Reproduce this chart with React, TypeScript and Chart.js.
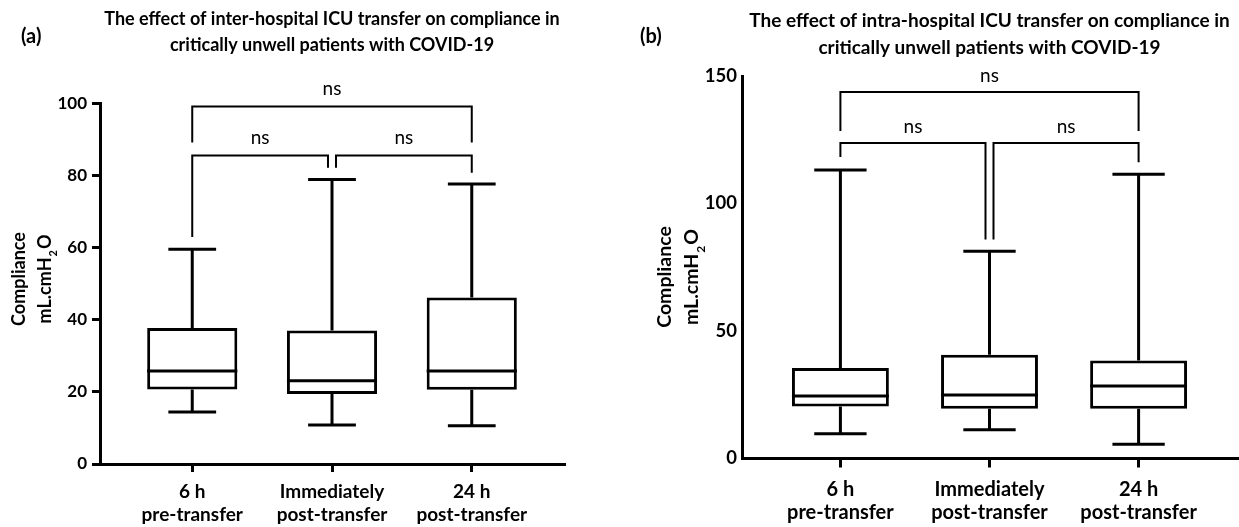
import React, { useEffect, useRef } from 'react';
import { Chart, registerables } from 'chart.js';

Chart.register(...registerables);

const FONT = 'Lato, "Noto Sans", "DejaVu Sans", sans-serif';

// ---------- shared categories ----------
const categoryLabels: string[][] = [
  ['6 h', 'pre-transfer'],
  ['Immediately', 'post-transfer'],
  ['24 h', 'post-transfer'],
];
const categoryPositions = [0, 1, 2];

const yTitleLine1 = 'Compliance';
const yTitleLine2: { text: string; sub?: boolean }[] = [
  { text: 'mL.cmH' },
  { text: '2', sub: true },
  { text: 'O' },
];

// ---------- panel (a): inter-hospital ----------
const interLetter = '(a)';
const interTitle = [
  'The effect of inter-hospital ICU transfer on compliance in',
  'critically unwell patients with COVID-19',
];
const interMin = [14.4, 10.8, 10.6];
const interQ1 = [20.7, 19.4, 20.6];
const interMedian = [25.8, 23.1, 25.8];
const interQ3 = [37.7, 37.0, 46.2];
const interMax = [59.6, 78.9, 77.7];
const interTicks = [0, 20, 40, 60, 80, 100];
const interBrackets = [
  { from: 0, to: 2, level: 99.2, fromEnd: 89.2, toEnd: 89.2, label: 'ns' },
  { from: 0, to: 1, level: 85.6, fromEnd: 63.0, toEnd: 82.2, label: 'ns' },
  { from: 1, to: 2, level: 85.6, fromEnd: 82.2, toEnd: 80.8, label: 'ns' },
];

// ---------- panel (b): intra-hospital ----------
const intraLetter = '(b)';
const intraTitle = [
  'The effect of intra-hospital ICU transfer on compliance in',
  'critically unwell patients with COVID-19',
];
const intraMin = [9.7, 11.3, 5.6];
const intraQ1 = [20.4, 19.5, 19.5];
const intraMedian = [24.5, 24.9, 28.4];
const intraQ3 = [35.5, 40.7, 38.4];
const intraMax = [113.1, 81.3, 111.5];
const intraTicks = [0, 50, 100, 150];
const intraBrackets = [
  { from: 0, to: 2, level: 143.7, fromEnd: 128.4, toEnd: 128.4, label: 'ns' },
  { from: 0, to: 1, level: 123.7, fromEnd: 118.2, toEnd: 85.9, label: 'ns' },
  { from: 1, to: 2, level: 123.7, fromEnd: 85.9, toEnd: 116.2, label: 'ns' },
];

type Bracket = { from: number; to: number; level: number; fromEnd: number; toEnd: number; label: string };

interface Panel {
  letter: string;
  title: string[];
  mins: number[];
  q1: number[];
  medians: number[];
  q3: number[];
  maxs: number[];
  yMax: number;
  yTicks: number[];
  brackets: Bracket[];
  s: {
    width: number;
    left: number;
    padding: { left: number; right: number; top: number; bottom: number };
    yAxisWidth: number;
    xAxisHeight: number;
    yTickLen: number;
    yTickPad: number;
    xTickLen: number;
    xTickPad: number;
    tickFont: number;
    xFont: number;
    titleFont: number;
    titleBaselines: number[];
    letterFont: number;
    letterX: number;
    letterY: number;
    yTitleFont: number;
    yTitleX: number[];
    yTitleY: number;
    nsFont: number;
    nsOffset: number;
    barPct: number;
    capRatio: number;
  };
}

const panels: Panel[] = [
  {
    letter: interLetter,
    title: interTitle,
    mins: interMin,
    q1: interQ1,
    medians: interMedian,
    q3: interQ3,
    maxs: interMax,
    yMax: 100,
    yTicks: interTicks,
    brackets: interBrackets,
    s: {
      width: 620,
      left: 0,
      padding: { left: 0, right: 56, top: 103.5, bottom: 0 },
      yAxisWidth: 100,
      xAxisHeight: 63,
      yTickLen: 8,
      yTickPad: 5,
      xTickLen: 8,
      xTickPad: 8,
      tickFont: 17,
      xFont: 19,
      titleFont: 18,
      titleBaselines: [25, 51],
      letterFont: 20,
      letterX: 21,
      letterY: 37,
      yTitleFont: 18,
      yTitleX: [19, 45],
      yTitleY: 279,
      nsFont: 19,
      nsOffset: 11,
      barPct: 0.645,
      capRatio: 0.53,
    },
  },
  {
    letter: intraLetter,
    title: intraTitle,
    mins: intraMin,
    q1: intraQ1,
    medians: intraMedian,
    q3: intraQ3,
    maxs: intraMax,
    yMax: 150,
    yTicks: intraTicks,
    brackets: intraBrackets,
    s: {
      width: 619,
      left: 620,
      padding: { left: 0, right: 2, top: 76, bottom: 0 },
      yAxisWidth: 122,
      xAxisHeight: 68.5,
      yTickLen: 0,
      yTickPad: 5,
      xTickLen: 9,
      xTickPad: 11,
      tickFont: 18.5,
      xFont: 20,
      titleFont: 19,
      titleBaselines: [27, 54],
      letterFont: 20,
      letterX: 20,
      letterY: 37,
      yTitleFont: 19.5,
      yTitleX: [45, 72],
      yTitleY: 277,
      nsFont: 19,
      nsOffset: 10.5,
      barPct: 0.65,
      capRatio: 0.54,
    },
  },
];

function makePlugin(p: Panel) {
  const s = p.s;
  return {
    id: 'boxplot-' + p.letter,
    beforeDatasetsDraw(chart: any) {
      const { ctx } = chart;
      const x = chart.scales.x;
      const y = chart.scales.y;
      const meta = chart.getDatasetMeta(0);
      ctx.save();
      ctx.strokeStyle = '#000';
      ctx.lineWidth = 3;
      ctx.lineCap = 'butt';
      p.mins.forEach((_v, i) => {
        const el: any = meta.data[i];
        const px = x.getPixelForValue(categoryPositions[i]);
        const half = (el.width / 2) * s.capRatio;
        const top = y.getPixelForValue(p.maxs[i]);
        const q3 = y.getPixelForValue(p.q3[i]);
        const q1 = y.getPixelForValue(p.q1[i]);
        const bot = y.getPixelForValue(p.mins[i]);
        ctx.beginPath();
        ctx.moveTo(px, q3);
        ctx.lineTo(px, top);
        ctx.moveTo(px - half, top);
        ctx.lineTo(px + half, top);
        ctx.moveTo(px, q1);
        ctx.lineTo(px, bot);
        ctx.moveTo(px - half, bot);
        ctx.lineTo(px + half, bot);
        ctx.stroke();
      });
      ctx.restore();
    },
    afterDatasetsDraw(chart: any) {
      const { ctx } = chart;
      const x = chart.scales.x;
      const y = chart.scales.y;
      const meta = chart.getDatasetMeta(0);
      ctx.save();
      ctx.strokeStyle = '#000';
      ctx.lineWidth = 3;
      // medians
      p.medians.forEach((m, i) => {
        const el: any = meta.data[i];
        const px = x.getPixelForValue(categoryPositions[i]);
        const my = y.getPixelForValue(m);
        ctx.beginPath();
        ctx.moveTo(px - el.width / 2, my);
        ctx.lineTo(px + el.width / 2, my);
        ctx.stroke();
      });
      // significance brackets
      ctx.lineWidth = 2;
      ctx.fillStyle = '#000';
      ctx.font = `${s.nsFont}px ${FONT}`;
      ctx.textAlign = 'center';
      ctx.textBaseline = 'alphabetic';
      const gap = 4;
      p.brackets.forEach((b, bi) => {
        const shared = (k: number) =>
          p.brackets.some((o, oi) => oi !== bi && o.level === b.level && (o.from === k || o.to === k));
        let x0 = x.getPixelForValue(categoryPositions[b.from]);
        let x1 = x.getPixelForValue(categoryPositions[b.to]);
        if (shared(b.from)) x0 += gap;
        if (shared(b.to)) x1 -= gap;
        const yl = y.getPixelForValue(b.level);
        ctx.beginPath();
        ctx.moveTo(x0, y.getPixelForValue(b.fromEnd));
        ctx.lineTo(x0, yl);
        ctx.lineTo(x1, yl);
        ctx.lineTo(x1, y.getPixelForValue(b.toEnd));
        ctx.stroke();
        ctx.fillText(b.label, (x0 + x1) / 2, yl - s.nsOffset);
      });
      ctx.restore();
    },
    afterDraw(chart: any) {
      const { ctx, chartArea } = chart;
      ctx.save();
      ctx.fillStyle = '#000';
      // panel letter
      ctx.font = `bold ${s.letterFont}px ${FONT}`;
      ctx.textAlign = 'left';
      ctx.textBaseline = 'middle';
      ctx.fillText(p.letter, s.letterX, s.letterY);
      // title
      ctx.font = `bold ${s.titleFont}px ${FONT}`;
      ctx.textAlign = 'center';
      ctx.textBaseline = 'alphabetic';
      const cx = (chartArea.left + chartArea.right) / 2;
      p.title.forEach((line, i) => ctx.fillText(line, cx, s.titleBaselines[i]));
      // y axis title (rotated, with subscript)
      const f = `bold ${s.yTitleFont}px ${FONT}`;
      const fs = `bold ${Math.round(s.yTitleFont * 0.6)}px ${FONT}`;
      ctx.save();
      ctx.translate(s.yTitleX[0], s.yTitleY);
      ctx.rotate(-Math.PI / 2);
      ctx.font = f;
      ctx.textAlign = 'center';
      ctx.textBaseline = 'middle';
      ctx.fillText(yTitleLine1, 0, 0);
      ctx.restore();
      ctx.save();
      ctx.translate(s.yTitleX[1], s.yTitleY);
      ctx.rotate(-Math.PI / 2);
      ctx.textAlign = 'left';
      ctx.textBaseline = 'middle';
      const widths = yTitleLine2.map((seg) => {
        ctx.font = seg.sub ? fs : f;
        return ctx.measureText(seg.text).width + (seg.sub ? 2 : 0);
      });
      const total = widths.reduce((a, b) => a + b, 0);
      let xx = -total / 2;
      yTitleLine2.forEach((seg, i) => {
        ctx.font = seg.sub ? fs : f;
        ctx.fillText(seg.text, xx + (seg.sub ? 1 : 0), seg.sub ? s.yTitleFont * 0.45 : 0);
        xx += widths[i];
      });
      ctx.restore();
      ctx.restore();
    },
  };
}

function makeConfig(p: Panel): any {
  const s = p.s;
  return {
    type: 'bar',
    data: {
      datasets: [
        {
          data: categoryPositions.map((pos, i) => ({ x: pos, y: [p.q1[i], p.q3[i]] })),
          backgroundColor: '#ffffff',
          borderColor: '#000000',
          borderWidth: 3,
          borderSkipped: false,
          categoryPercentage: 1,
          barPercentage: s.barPct,
        },
      ],
    },
    options: {
      responsive: false,
      animation: false,
      events: [],
      layout: { padding: s.padding },
      plugins: {
        legend: { display: false },
        tooltip: { enabled: false },
        title: { display: false },
      },
      scales: {
        x: {
          type: 'linear',
          offset: false,
          min: -0.66,
          max: 2.66,
          afterBuildTicks: (scale: any) => {
            scale.ticks = categoryPositions.map((v) => ({ value: v }));
          },
          afterFit: (scale: any) => {
            scale.height = s.xAxisHeight;
          },
          ticks: {
            autoSkip: false,
            maxRotation: 0,
            minRotation: 0,
            padding: s.xTickPad,
            color: '#000',
            font: { family: FONT, size: s.xFont, weight: 'bold', lineHeight: 23 / s.xFont },
            callback: (value: number) => categoryLabels[categoryPositions.indexOf(value)] ?? '',
          },
          grid: {
            display: true,
            offset: false,
            drawOnChartArea: false,
            drawTicks: true,
            tickLength: s.xTickLen,
            color: '#000',
            lineWidth: 3,
          },
          border: { display: true, color: '#000', width: 3 },
        },
        y: {
          type: 'linear',
          min: 0,
          max: p.yMax,
          afterBuildTicks: (scale: any) => {
            scale.ticks = p.yTicks.map((v) => ({ value: v }));
          },
          afterFit: (scale: any) => {
            scale.width = s.yAxisWidth;
          },
          ticks: {
            padding: s.yTickPad,
            color: '#000',
            font: { family: FONT, size: s.tickFont, weight: 'bold' },
          },
          grid: {
            display: s.yTickLen > 0,
            drawOnChartArea: false,
            drawTicks: true,
            tickLength: s.yTickLen,
            color: '#000',
            lineWidth: 3,
          },
          border: { display: true, color: '#000', width: 3 },
        },
      },
    },
    plugins: [makePlugin(p)],
  };
}

function PanelChart({ panel }: { panel: Panel }) {
  const ref = useRef<HTMLCanvasElement | null>(null);
  useEffect(() => {
    if (!ref.current) return;
    const chart = new Chart(ref.current, makeConfig(panel));
    return () => chart.destroy();
  }, [panel]);
  return (
    <div style={{ position: 'absolute', left: panel.s.left, top: 0, width: panel.s.width, height: 527 }}>
      <canvas ref={ref} width={panel.s.width} height={527} style={{ display: 'block' }} />
    </div>
  );
}

export default function App() {
  return (
    <div style={{ position: 'absolute', left: 0, top: 0, width: 1239, height: 527, background: '#fff' }}>
      {panels.map((p) => (
        <PanelChart key={p.letter} panel={p} />
      ))}
    </div>
  );
}
